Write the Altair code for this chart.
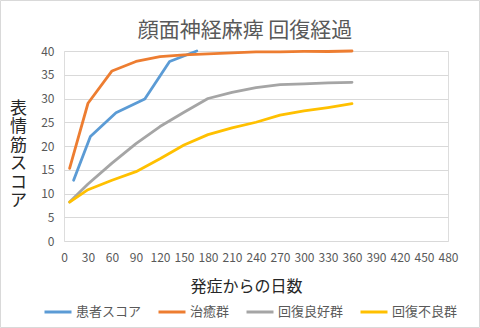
import altair as alt
import pandas as pd

series_names = ["患者スコア", "治癒群", "回復良好群", "回復不良群"]
series_colors = ["#5B9BD5", "#ED7D31", "#A5A5A5", "#FFC000"]

patient_days = [12, 33, 65, 101, 132, 166]
patient_vals = [12.8, 22.0, 27.0, 29.9, 37.8, 40.0]

group_days = [7, 30, 60, 90, 120, 150, 180, 210, 240, 270, 300, 330, 360]
cured_vals = [15.3, 29.0, 35.8, 37.8, 38.8, 39.2, 39.4, 39.6, 39.8, 39.8, 39.9, 39.9, 40.0]
good_vals = [8.2, 12.0, 16.4, 20.5, 24.1, 27.1, 30.0, 31.3, 32.3, 32.9, 33.1, 33.3, 33.4]
poor_vals = [8.2, 10.8, 12.8, 14.6, 17.3, 20.2, 22.4, 23.8, 25.0, 26.5, 27.4, 28.1, 28.9]

x_ticks = list(range(0, 481, 30))
y_ticks = list(range(0, 41, 5))

rows = []
for d, v in zip(patient_days, patient_vals):
    rows.append({"day": d, "score": v, "series": series_names[0]})
for name, vals in [(series_names[1], cured_vals), (series_names[2], good_vals), (series_names[3], poor_vals)]:
    for d, v in zip(group_days, vals):
        rows.append({"day": d, "score": v, "series": name})
df = pd.DataFrame(rows)

FONT = "Noto Sans CJK JP"

lines = alt.Chart(df).mark_line(strokeWidth=2.8, strokeCap="round", strokeJoin="round").encode(
    x=alt.X("day:Q", scale=alt.Scale(domain=[0, 480], nice=False, zero=True),
            axis=alt.Axis(values=x_ticks, grid=False, domain=False, ticks=False,
                          labelOverlap=False, labelFlush=False, labelPadding=11, labelFontSize=12,
                          labelColor="#595959", labelFont=FONT,
                          title="発症からの日数", titleFontSize=16, titleFontWeight="normal",
                          titleColor="#262626", titleFont=FONT,
                          titleX=182, titleY=45, titleBaseline="middle")),
    y=alt.Y("score:Q", scale=alt.Scale(domain=[0, 40], nice=False),
            axis=alt.Axis(values=y_ticks, grid=True, gridColor="#d9d9d9", gridWidth=1,
                          domain=False, ticks=False, labelPadding=10, labelFontSize=12,
                          labelColor="#595959", labelFont=FONT,
                          title=["表", "情", "筋", "ス", "コ", "ア"], titleAngle=0,
                          titleFontSize=17, titleFontWeight="normal", titleColor="#262626",
                          titleFont=FONT, titleX=-46, titleY=57, titleAlign="center",
                          titleBaseline="middle", titleLineHeight=18.5)),
    color=alt.Color("series:N",
                    scale=alt.Scale(domain=series_names, range=series_colors),
                    legend=alt.Legend(title=None, orient="none", direction="horizontal",
                                      legendX=-21, legendY=246, symbolType="stroke",
                                      symbolSize=729, symbolStrokeWidth=3,
                                      labelFontSize=13, labelColor="#595959", labelFont=FONT,
                                      labelOffset=3, columnPadding=10, padding=0,
                                      gridAlign="none")),
    detail="series:N",
    order="day:Q",
)

frame = alt.Chart(alt.Data(values=[{}])).mark_rect(fill=None, stroke="#d9d9d9", strokeWidth=1).encode(
    x=alt.value(-63.5), x2=alt.value(415.5), y=alt.value(-50.5), y2=alt.value(276.5)
)

chart = alt.layer(frame, lines).properties(
    width=384, height=190,
    title=alt.TitleParams("顔面神経麻痺 回復経過", anchor="middle", dx=-11, offset=-41,
                          fontSize=21, fontWeight="normal", color="#595959", font=FONT),
    autosize=alt.AutoSizeParams(type="none"),
    padding={"left": 64, "top": 51, "right": 32, "bottom": 87},
).configure_view(stroke=None).configure(background="white")

chart.save("out.html", embed_options={"renderer": "svg", "actions": False})
